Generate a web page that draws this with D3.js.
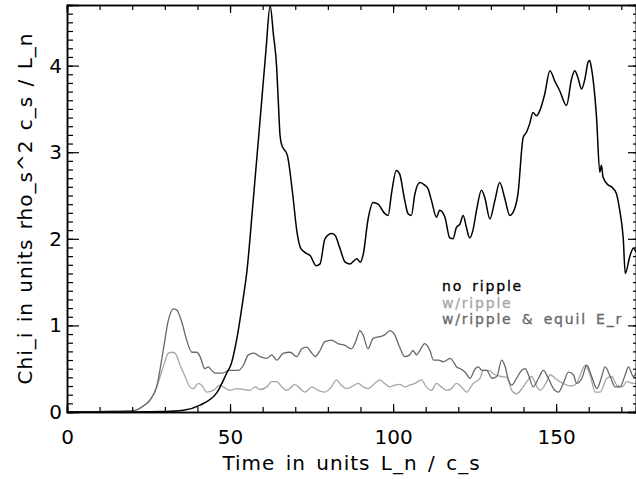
<!DOCTYPE html>
<html lang="en">
<head>
  <meta charset="UTF-8">
  <script src="https://cdn.jsdelivr.net/npm/d3@7"></script>
  <title>Chi_i vs time</title>
  <style>
    body { margin: 0; background: #fff; }
    svg { display: block; }
    text { font-family: 'DejaVu Sans', sans-serif; }
  </style>
</head>
<body>
  <svg id="chart" width="636" height="479"></svg>
  <script>
    // no ripple (black)
    const tNoRipple = [0, 20, 30, 35.7, 40.8, 45.9, 49.0, 50.4, 52.0, 54.1, 55.1, 57.1, 59.7, 61.0, 62.3,
      63.3, 64.3, 64.8, 65.3, 65.8, 67.6, 69.2, 70.6, 71.7, 73.5, 74.5, 76.4, 77.6, 79.1, 81.2,
      82.2, 83.7, 85.3, 86.8, 88.9, 89.9, 90.9, 92.3, 93.9, 95.4, 97.5, 98.5, 99.5, 101.0, 102.0,
      103.6, 104.6, 105.6, 106.7, 108.2, 109.7, 110.7, 111.8, 113.3, 114.3, 115.9, 117.4, 118.4, 119.4, 120.5,
      121.5, 122.5, 123.5, 124.5, 125.6, 127.1, 128.1, 129.7, 131.2, 132.7, 134.3, 135.8, 137.3, 138.3, 139.9,
      140.9, 141.9, 142.9, 144.0, 145.0, 146.5, 148.1, 149.6, 151.1, 153.2, 154.7, 155.7, 156.7, 157.8, 158.8,
      159.8, 160.3, 160.8, 162.4, 163.4, 163.9, 164.4, 166.0, 167.0, 168.5, 169.5, 170.6, 171.2, 172.7, 173.7, 174.5];
    const chiNoRipple = [0, 0, 0.005, 0.02, 0.08, 0.22, 0.45, 0.56, 0.83, 1.33, 1.6, 2.44, 3.59, 4.17, 4.69,
      4.36, 3.98, 3.59, 3.21, 3.09, 2.96, 2.52, 2.06, 1.89, 1.83, 1.81, 1.69, 1.71, 2.00, 2.06,
      2.04, 1.89, 1.73, 1.71, 1.77, 1.73, 1.83, 2.22, 2.42, 2.40, 2.29, 2.27, 2.52, 2.79, 2.75,
      2.44, 2.29, 2.27, 2.52, 2.65, 2.62, 2.58, 2.44, 2.25, 2.33, 2.25, 2.01, 2.00, 2.13, 2.17,
      2.27, 2.13, 2.01, 2.10, 2.33, 2.56, 2.48, 2.23, 2.44, 2.65, 2.46, 2.27, 2.35, 2.52, 3.17,
      3.23, 3.33, 3.46, 3.42, 3.48, 3.67, 3.94, 3.82, 3.71, 3.54, 3.84, 3.94, 3.86, 3.73, 3.84,
      4.04, 4.06, 3.98, 3.40, 2.77, 2.85, 2.71, 2.62, 2.60, 2.52, 2.33, 2.00, 1.60, 1.81, 1.89, 1.85];

    // w/ripple (light grey)
    const tRipple = [0, 20.3, 23.4, 25.5, 27.5, 29.5, 31.1, 32.1, 33.1, 34.7, 36.2, 37.7, 38.7, 40.3, 41.3,
      42.9, 44.9, 46.9, 47.9, 50.0, 52.0, 54.1, 56.1, 57.7, 59.2, 61.3, 62.8, 64.3, 65.9, 67.4,
      68.9, 69.9, 71.5, 73.0, 75.1, 77.0, 79.0, 81.1, 82.6, 84.1, 85.7, 87.2, 89.3, 90.8, 92.3,
      94.4, 95.9, 97.4, 99.0, 100.5, 102.0, 103.6, 105.1, 106.7, 108.7, 110.2, 111.8, 113.3, 114.8, 116.4,
      117.9, 119.4, 121.0, 122.5, 124.6, 126.7, 127.7, 129.2, 131.3, 133.3, 134.9, 136.4, 137.9, 139.5, 141.0,
      142.5, 144.1, 145.1, 147.1, 148.2, 149.7, 151.2, 153.3, 154.8, 156.3, 157.4, 158.9, 160.4, 162.0, 163.5,
      165.6, 167.1, 168.6, 170.2, 171.7, 173.7, 174.5];
    const chiRipple = [0, 0.015, 0.07, 0.14, 0.29, 0.52, 0.68, 0.69, 0.68, 0.54, 0.41, 0.29, 0.27, 0.33, 0.31,
      0.23, 0.25, 0.31, 0.29, 0.25, 0.27, 0.26, 0.25, 0.29, 0.26, 0.29, 0.35, 0.35, 0.29, 0.25,
      0.29, 0.32, 0.27, 0.23, 0.29, 0.25, 0.23, 0.29, 0.37, 0.31, 0.27, 0.29, 0.33, 0.29, 0.27,
      0.33, 0.37, 0.33, 0.29, 0.31, 0.32, 0.29, 0.31, 0.33, 0.37, 0.29, 0.25, 0.33, 0.29, 0.25,
      0.27, 0.33, 0.29, 0.23, 0.33, 0.39, 0.48, 0.48, 0.43, 0.41, 0.40, 0.25, 0.21, 0.27, 0.35,
      0.41, 0.29, 0.25, 0.35, 0.43, 0.39, 0.35, 0.31, 0.30, 0.33, 0.43, 0.54, 0.43, 0.23, 0.23,
      0.39, 0.41, 0.31, 0.29, 0.35, 0.33, 0.33];

    // w/ripple & equil E_r (dark grey)
    const tRippleEr = [0, 20.3, 23.4, 25.5, 27.5, 29.5, 31.1, 32.6, 33.6, 35.2, 36.7, 38.3, 39.8, 40.8, 42.3,
      43.3, 44.4, 45.4, 47.5, 50.0, 52.5, 54.1, 55.6, 57.2, 59.2, 61.3, 62.8, 64.3, 66.4, 68.4,
      70.5, 72.0, 73.5, 75.1, 76.1, 77.6, 79.0, 81.1, 83.1, 85.2, 87.2, 88.7, 89.8, 90.8, 92.3,
      93.9, 95.9, 97.4, 99.0, 100.5, 102.0, 103.6, 105.1, 106.1, 107.2, 108.2, 109.7, 111.3, 112.4, 113.9,
      115.4, 116.5, 117.5, 118.5, 119.5, 120.6, 122.1, 123.6, 125.2, 126.2, 127.2, 128.7, 130.3, 131.8, 133.3,
      134.4, 135.4, 136.4, 137.9, 139.0, 140.5, 141.5, 143.0, 144.6, 146.1, 147.6, 149.2, 150.7, 152.2, 153.8,
      155.3, 156.3, 157.9, 159.4, 160.9, 162.5, 164.0, 165.0, 166.6, 168.1, 169.6, 171.2, 172.2, 173.7, 174.5];
    const chiRippleEr = [0, 0.015, 0.07, 0.14, 0.29, 0.71, 1.06, 1.19, 1.18, 1.04, 0.83, 0.69, 0.69, 0.64, 0.50,
      0.52, 0.48, 0.45, 0.45, 0.48, 0.48, 0.54, 0.66, 0.68, 0.64, 0.62, 0.66, 0.60, 0.68, 0.69,
      0.64, 0.73, 0.75, 0.68, 0.64, 0.71, 0.81, 0.83, 0.79, 0.77, 0.73, 0.83, 0.94, 0.89, 0.73,
      0.85, 0.87, 0.89, 0.94, 0.89, 0.75, 0.64, 0.66, 0.71, 0.66, 0.71, 0.79, 0.71, 0.60, 0.60,
      0.58, 0.60, 0.62, 0.58, 0.52, 0.50, 0.46, 0.39, 0.50, 0.52, 0.48, 0.48, 0.39, 0.41, 0.60,
      0.52, 0.37, 0.31, 0.39, 0.46, 0.50, 0.43, 0.29, 0.39, 0.48, 0.39, 0.27, 0.23, 0.33, 0.46,
      0.43, 0.33, 0.39, 0.54, 0.41, 0.27, 0.41, 0.52, 0.41, 0.29, 0.29, 0.43, 0.52, 0.41, 0.45];

    const xMajor = [0, 50, 100, 150];
    const yMajor = [0, 1, 2, 3, 4];
    const legendLabels = ["no ripple", "w/ripple", "w/ripple & equil E_r"];
    const colors = ["#000", "#a6a6a6", "#676767"];

    const pLeft = 67, pRight = 636, pTop = 5, pBottom = 412;
    const svg = d3.select("#chart");

    const x = d3.scaleLinear().domain([0, 174.5]).range([pLeft, pRight]);
    const y = d3.scaleLinear().domain([0, 4.7]).range([pBottom, pTop]);

    svg.append("clipPath").attr("id", "clip")
      .append("rect").attr("x", pLeft).attr("y", pTop)
      .attr("width", pRight - pLeft).attr("height", pBottom - pTop);

    const line = d3.line()
      .x(d => x(d[0])).y(d => y(d[1]))
      .curve(d3.curveMonotoneX);

    const series = [
      { t: tRipple, v: chiRipple, c: colors[1], w: 1.3 },
      { t: tRippleEr, v: chiRippleEr, c: colors[2], w: 1.3 },
      { t: tNoRipple, v: chiNoRipple, c: colors[0], w: 1.5 }
    ];
    svg.append("g").attr("clip-path", "url(#clip)")
      .selectAll("path").data(series).enter().append("path")
      .attr("d", d => line(d3.zip(d.t, d.v)))
      .attr("fill", "none")
      .attr("stroke", d => d.c)
      .attr("stroke-width", d => d.w)
      .attr("stroke-linejoin", "round");

    // axes: ticks point inward, box on all four sides
    const xMinor = d3.range(0, 175, 10);
    const yMinor = d3.range(0, 4.71, 0.1);

    svg.append("g").attr("transform", `translate(0,${pBottom})`)
      .call(d3.axisBottom(x).tickValues(xMinor).tickSize(-5).tickFormat(""));
    svg.append("g").attr("transform", `translate(0,${pBottom})`)
      .call(d3.axisBottom(x).tickValues(xMajor).tickSize(-8).tickPadding(18).tickFormat(d3.format("d")));
    svg.append("g").attr("transform", `translate(0,${pTop})`)
      .call(d3.axisTop(x).tickValues(xMinor).tickSize(-5).tickFormat(""));
    svg.append("g").attr("transform", `translate(0,${pTop})`)
      .call(d3.axisTop(x).tickValues(xMajor).tickSize(-8).tickFormat(""));

    svg.append("g").attr("transform", `translate(${pLeft},0)`)
      .call(d3.axisLeft(y).tickValues(yMinor).tickSize(-6).tickFormat(""));
    svg.append("g").attr("transform", `translate(${pLeft},0)`)
      .call(d3.axisLeft(y).tickValues(yMajor).tickSize(-12).tickPadding(5).tickFormat(d3.format("d")));
    svg.append("g").attr("transform", `translate(${pRight},0)`)
      .call(d3.axisRight(y).tickValues(yMinor).tickSize(-3).tickFormat(""));
    svg.append("g").attr("transform", `translate(${pRight},0)`)
      .call(d3.axisRight(y).tickValues(yMajor).tickSize(-8).tickFormat(""));

    svg.selectAll(".domain").attr("stroke", "#000").attr("stroke-width", 1.5);
    svg.selectAll(".tick line").attr("stroke", "#000").attr("stroke-width", 1.2);
    svg.selectAll(".tick text").attr("font-size", 20).attr("fill", "#000")
      .attr("font-family", "'DejaVu Sans', sans-serif");

    svg.append("text")
      .attr("x", (pLeft + pRight) / 2).attr("y", 470)
      .attr("text-anchor", "middle").attr("font-size", 20)
      .attr("letter-spacing", 1).attr("word-spacing", 3)
      .text("Time in units L_n / c_s");

    svg.append("text")
      .attr("transform", `translate(32,${(pTop + pBottom) / 2}) rotate(-90)`)
      .attr("text-anchor", "middle").attr("font-size", 20)
      .attr("letter-spacing", 1).attr("word-spacing", 2)
      .text("Chi_i in units rho_s^2 c_s / L_n");

    svg.append("g").selectAll("text").data(legendLabels).enter().append("text")
      .attr("x", 442).attr("y", (d, i) => 291 + i * 16.5)
      .attr("font-size", 14).attr("letter-spacing", 1.8).attr("word-spacing", 3)
      .attr("fill", (d, i) => colors[i])
      .attr("stroke", (d, i) => colors[i]).attr("stroke-width", 0.3)
      .text(d => d);
  </script>
</body>
</html>
